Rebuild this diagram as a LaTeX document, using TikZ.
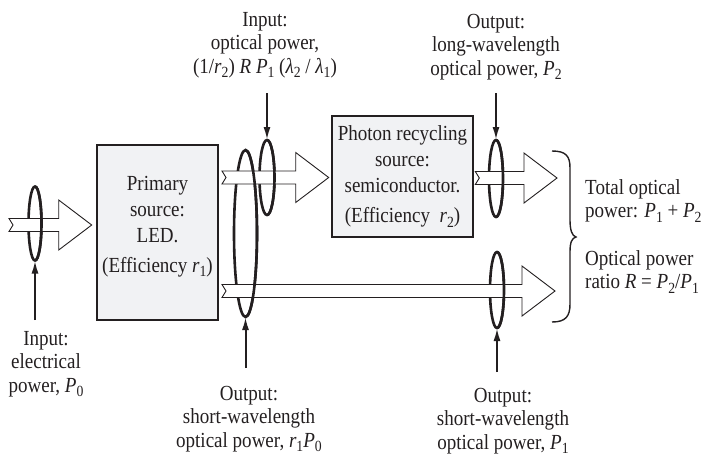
\documentclass[tikz,border=0pt]{standalone}
\usepackage{fontspec}
\setmainfont{Liberation Serif}[FakeStretch=0.885]
\definecolor{ink}{RGB}{35,31,32}
\definecolor{boxgray}{RGB}{241,242,244}
\colorlet{beamfill}{white}
\usetikzlibrary{calc, positioning, arrows.meta, shapes.geometric}
\newcommand\vsub[2]{\textit{#1}\raisebox{-4.5pt}{\fontsize{15.5pt}{16pt}\selectfont #2}}

\begin{document}
\begin{tikzpicture}[
    x=1pt, y=-1pt,
    lbl/.style={align=center, inner sep=0pt, text=ink,
      font=\fontsize{21.5pt}{23.5pt}\selectfont},
    srcbox/.style={draw=ink, fill=boxgray, line width=2.6pt, align=center,
      inner sep=0pt, text=ink, font=\fontsize{21.5pt}{26pt}\selectfont},
    ring/.style={draw=ink, line width=2.6pt, ellipse, inner sep=0pt, outer sep=0pt},
    ringfront/.style={draw=ink, line width=2.6pt},
    feed/.style={draw=ink, line width=2pt, -{Latex[length=13pt,width=7pt]}},
    beam/.style={draw=ink, fill=beamfill, line width=0.9pt,
      to path={let \p1=(\tikztostart), \p2=(\tikztotarget) in
        (\x1,\y1+6.5pt) -- (\x2-33pt,\y2+6.5pt) -- (\x2-33pt,\y2+25pt) -- (\x2,\y2)
        -- (\x2-33pt,\y2-25pt) -- (\x2-33pt,\y2-6.5pt) -- (\x1,\y1-6.5pt)
        -- (\x1+4pt,\y1) -- cycle}},
  ]
    \useasboundingbox (0,0) rectangle (707,459);

    % sources
    \node[srcbox, minimum width=121pt, minimum height=175pt, text depth=17pt]
      (primary) at (157.5,232.5) {Primary\\source:\\LED.\\[4pt](Efficiency \vsub{r}{1})};
    \node[srcbox, minimum width=141pt, minimum height=121pt]
      (photon) at (402.5,176.5) {Photon recycling\\source:\\semiconductor.\\[4pt](Efficiency \ \vsub{r}{2})};

    % rings round the beams
    \node[ring, minimum width=13pt, minimum height=74pt] (r0) at (35,223.5) {};
    \node[ring, minimum width=23pt, minimum height=167pt] (r1) at (245.5,233.5) {};
    \node[ring, minimum width=15pt, minimum height=75pt] (r2) at (267,177.5) {};
    \node[ring, minimum width=14pt, minimum height=77pt] (r3) at (496,178.5) {};
    \node[ring, minimum width=14pt, minimum height=76pt] (r4) at (497,290) {};

    % beams
    \coordinate (elecTail) at (9,225);
    \coordinate (upperTail) at (222,177.5);
    \coordinate (lowerTail) at (222,291);
    \coordinate (lowerTip) at (555,291);
    \coordinate (longTip) at (557,178);
    \draw[beam] (elecTail) to ([xshift=-4pt]elecTail -| primary.west);
    \draw[beam] (upperTail) to ([xshift=-2pt]upperTail -| photon.west);
    \draw[beam] (lowerTail) to (lowerTip);
    \draw[beam] ([xshift=1pt]photon.east |- longTip) to (longTip);

    % front halves of the rings
    \draw[ringfront] (r0.north) arc[start angle=90, end angle=-90, x radius=6.5pt, y radius=37pt];
    \draw[ringfront] (r1.north) arc[start angle=90, end angle=-90, x radius=11.5pt, y radius=83.5pt];
    \draw[ringfront] (r2.north) arc[start angle=90, end angle=-90, x radius=7.5pt, y radius=37.5pt];
    \draw[ringfront] (r3.north) arc[start angle=90, end angle=-90, x radius=7pt, y radius=38.5pt];
    \draw[ringfront] (r4.north) arc[start angle=90, end angle=-90, x radius=7pt, y radius=38pt];

    % power taps
    \coordinate (elecFeed) at (35,320);
    \coordinate (pumpFeed) at (267,93);
    \coordinate (shortFeed) at (245.5,368);
    \coordinate (longFeed) at (496,93);
    \coordinate (leakFeed) at (497,372);
    \draw[feed] (elecFeed) -- (r0.south);
    \draw[feed] (pumpFeed) -- (r2.north);
    \draw[feed] (shortFeed) -- (r1.south);
    \draw[feed] (longFeed) -- (r3.north);
    \draw[feed] (leakFeed) -- (r4.south);

    % labels
    \node[lbl] (elecLbl) at (46,364) {Input:\\electrical\\power, \vsub{P}{0}};
    \node[lbl] (shortLbl) at (249,419) {Output:\\short-wavelength\\optical power, \vsub{r}{1}\vsub{P}{0}};
    \node[lbl] (leakLbl) at (503,421) {Output:\\short-wavelength\\optical power, \vsub{P}{1}};
    \node[lbl] (pumpLbl) at (265,45) {Input:\\optical power,\\(1/\vsub{r}{2}) \textit{R} \vsub{P}{1} (\vsub{λ}{2} / \vsub{λ}{1})};
    \node[lbl] (longLbl) at (496,47) {Output:\\long-wavelength\\optical power, \vsub{P}{2}};
    \node[lbl, align=left, anchor=west] (totalLbl) at (585,201) {Total optical\\power: \vsub{P}{1} + \vsub{P}{2}};
    \node[lbl, align=left, anchor=west] (ratioLbl) at (585,272) {Optical power\\ratio \textit{R} = \vsub{P}{2}/\vsub{P}{1}};

    % brace round both outputs
    \coordinate (braceTop) at (552,151);
    \coordinate (braceTip) at (576,237);
    \coordinate (braceBot) at (552,322);
    \draw[ink, line width=1.4pt] (braceTop) .. controls ++(14,0) and ++(0,-12) .. ++(18,17)
      -- ++(0,52) .. controls ++(0,10) and ++(-4,-1) .. (braceTip)
      .. controls ++(-4,1) and ++(0,-10) .. ++(-6,15)
      -- ++(0,52) .. controls ++(0,12) and ++(14,0) .. (braceBot);
  \end{tikzpicture}
\end{document}
